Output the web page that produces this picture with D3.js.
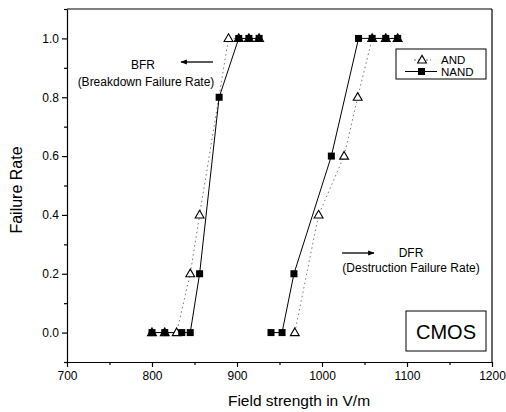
<!DOCTYPE html>
<html>
<head>
<meta charset="utf-8">
<script src="https://cdn.jsdelivr.net/npm/d3@7"></script>
<style>
  body { margin: 0; background: #fff; }
  svg { font-family: "Liberation Sans", Arial, sans-serif; }
  .axis path, .axis line { stroke: #000; stroke-width: 1.2; }
  .axis text { font-size: 12px; fill: #000; }
</style>
</head>
<body>
<svg id="chart" width="506" height="412"></svg>
<script>
// BFR group
const andBfrX = [800, 815, 829, 845, 856, 890, 902, 914, 926];
const andBfrY = [0, 0, 0, 0.2, 0.4, 1.0, 1.0, 1.0, 1.0];
const nandBfrX = [800, 815, 835, 845, 856, 879, 902, 914, 926];
const nandBfrY = [0, 0, 0, 0, 0.2, 0.8, 1.0, 1.0, 1.0];
// DFR group
const andDfrX = [968, 996, 1026, 1042, 1059, 1075, 1089];
const andDfrY = [0, 0.4, 0.6, 0.8, 1.0, 1.0, 1.0];
const nandDfrX = [940, 953, 967, 1011, 1043, 1059, 1075, 1089];
const nandDfrY = [0, 0, 0.2, 0.6, 1.0, 1.0, 1.0, 1.0];

const xTicks = [700, 800, 900, 1000, 1100, 1200];
const yTicks = [0, 0.2, 0.4, 0.6, 0.8, 1.0];

const svg = d3.select('#chart');
const pLeft = 67, pRight = 492, pTop = 9, pBottom = 362;

const x = d3.scaleLinear().domain([700, 1200]).range([pLeft, pRight]);
const y = d3.scaleLinear().domain([-0.1, 1.1]).range([pBottom, pTop]);

// minor ticks
svg.append('g')
  .attr('class', 'axis')
  .attr('transform', `translate(0, ${pBottom})`)
  .call(d3.axisBottom(x).tickValues(d3.range(750, 1200, 100)).tickSize(3).tickFormat(''))
  .call(g => g.select('.domain').remove());
svg.append('g')
  .attr('class', 'axis')
  .attr('transform', `translate(${pLeft}, 0)`)
  .call(d3.axisLeft(y).tickValues([-0.1, 0.1, 0.3, 0.5, 0.7, 0.9, 1.1]).tickSize(3).tickFormat(''))
  .call(g => g.select('.domain').remove());

// major axes
svg.append('g')
  .attr('class', 'axis')
  .attr('transform', `translate(0, ${pBottom})`)
  .call(d3.axisBottom(x).tickValues(xTicks).tickSize(5).tickSizeOuter(0).tickPadding(4).tickFormat(d3.format('d')));
svg.append('g')
  .attr('class', 'axis')
  .attr('transform', `translate(${pLeft}, 0)`)
  .call(d3.axisLeft(y).tickValues(yTicks).tickSize(5).tickSizeOuter(0).tickPadding(3).tickFormat(d3.format('.1f')));

// frame top/right
svg.append('line').attr('x1', pLeft).attr('x2', pRight).attr('y1', pTop).attr('y2', pTop)
  .attr('stroke', '#000').attr('stroke-width', 1.2);
svg.append('line').attr('x1', pRight).attr('x2', pRight).attr('y1', pTop).attr('y2', pBottom)
  .attr('stroke', '#000').attr('stroke-width', 1.2);

const line = d3.line().x(d => x(d[0])).y(d => y(d[1]));
const zip = (xs, ys) => xs.map((v, i) => [v, ys[i]]);

function drawAnd(xs, ys) {
  const pts = zip(xs, ys);
  svg.append('path').attr('d', line(pts)).attr('fill', 'none')
    .attr('stroke', '#777').attr('stroke-width', 1).attr('stroke-dasharray', '1.5,3');
  return pts;
}
function drawNand(xs, ys) {
  const pts = zip(xs, ys);
  svg.append('path').attr('d', line(pts)).attr('fill', 'none')
    .attr('stroke', '#000').attr('stroke-width', 1);
  return pts;
}
const tri = d3.symbol().type(d3.symbolTriangle).size(34);
function triangles(pts) {
  svg.append('g').selectAll('path').data(pts).enter().append('path')
    .attr('d', tri)
    .attr('transform', d => `translate(${x(d[0])}, ${y(d[1]) + 0.5})`)
    .attr('fill', '#fff').attr('stroke', '#000').attr('stroke-width', 1.1);
}
function squares(pts) {
  svg.append('g').selectAll('rect').data(pts).enter().append('rect')
    .attr('x', d => x(d[0]) - 3.5).attr('y', d => y(d[1]) - 3.5)
    .attr('width', 7).attr('height', 7).attr('fill', '#000');
}

const a1 = drawAnd(andBfrX, andBfrY);
const a2 = drawAnd(andDfrX, andDfrY);
const n1 = drawNand(nandBfrX, nandBfrY);
const n2 = drawNand(nandDfrX, nandDfrY);
triangles(a1); triangles(a2);
squares(n1); squares(n2);

// arrow marker
svg.append('defs').append('marker')
  .attr('id', 'arr').attr('viewBox', '0 0 10 10').attr('refX', 9).attr('refY', 5)
  .attr('markerWidth', 5).attr('markerHeight', 5).attr('orient', 'auto')
  .append('path').attr('d', 'M0,1L10,5L0,9Z').attr('fill', '#000');

svg.append('line').attr('x1', 213).attr('y1', 62).attr('x2', 181).attr('y2', 62)
  .attr('stroke', '#000').attr('stroke-width', 1.3).attr('marker-end', 'url(#arr)');
svg.append('text').attr('x', 143).attr('y', 69).attr('text-anchor', 'middle')
  .attr('font-size', 12).text('BFR');
svg.append('text').attr('x', 146).attr('y', 86).attr('text-anchor', 'middle')
  .attr('font-size', 12).text('(Breakdown Failure Rate)');

svg.append('line').attr('x1', 342).attr('y1', 253).attr('x2', 374).attr('y2', 253)
  .attr('stroke', '#000').attr('stroke-width', 1.3).attr('marker-end', 'url(#arr)');
svg.append('text').attr('x', 411).attr('y', 257).attr('text-anchor', 'middle')
  .attr('font-size', 12).text('DFR');
svg.append('text').attr('x', 411).attr('y', 272).attr('text-anchor', 'middle')
  .attr('font-size', 12).text('(Destruction Failure Rate)');

// legend
svg.append('rect').attr('x', 396).attr('y', 49).attr('width', 90).attr('height', 30)
  .attr('fill', '#fff').attr('stroke', '#000').attr('stroke-width', 1);
svg.append('line').attr('x1', 414).attr('x2', 431).attr('y1', 60).attr('y2', 60)
  .attr('stroke', '#777').attr('stroke-dasharray', '2,2');
svg.append('path').attr('d', tri).attr('transform', 'translate(422, 60.5)')
  .attr('fill', '#fff').attr('stroke', '#000').attr('stroke-width', 1.1);
svg.append('text').attr('x', 441).attr('y', 64).attr('font-size', 11.5).text('AND');
svg.append('line').attr('x1', 405).attr('x2', 437).attr('y1', 71.5).attr('y2', 71.5)
  .attr('stroke', '#000');
svg.append('rect').attr('x', 418).attr('y', 68).attr('width', 7).attr('height', 7).attr('fill', '#000');
svg.append('text').attr('x', 441).attr('y', 75.5).attr('font-size', 11.5).text('NAND');

// CMOS box
svg.append('rect').attr('x', 406).attr('y', 311).attr('width', 80).attr('height', 40)
  .attr('fill', '#fff').attr('stroke', '#000').attr('stroke-width', 1);
svg.append('text').attr('x', 446).attr('y', 339).attr('text-anchor', 'middle')
  .attr('font-size', 20).text('CMOS');

// axis titles
svg.append('text').attr('x', 299).attr('y', 406).attr('text-anchor', 'middle')
  .attr('font-size', 15.5).text('Field strength in V/m');
svg.append('text').attr('transform', 'translate(22, 190) rotate(-90)')
  .attr('text-anchor', 'middle').attr('font-size', 16).text('Failure Rate');
</script>
</body>
</html>
